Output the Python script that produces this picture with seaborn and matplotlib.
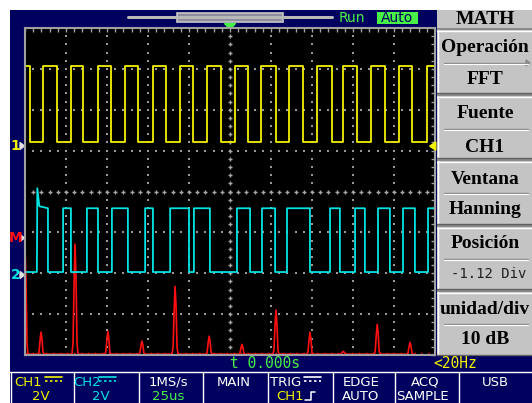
import numpy as np
import pandas as pd
import matplotlib
matplotlib.use("Agg")
import matplotlib.pyplot as plt
import seaborn as sns
from matplotlib.patches import Rectangle, Polygon

# ---- values (graticule divisions: x 0..10, y 0..8) ----
ch1_rise = [0.44, 1.12, 1.78, 2.44, 3.12, 3.78, 4.44, 5.12, 5.76, 6.44, 7.12, 7.76, 8.44, 9.12, 9.80]
ch1_fall = [0.12, 0.78, 1.41, 2.10, 2.76, 3.44, 4.10, 4.78, 5.44, 6.12, 6.78, 7.49, 8.10, 8.78, 9.44]
ch1_high, ch1_low = 7.07, 5.21

ch2_rise = [0.29, 0.93, 1.51, 2.12, 2.93, 3.54, 4.12, 5.17, 5.78, 6.39, 7.44, 8.05, 8.61, 9.22, 9.83]
ch2_fall = [0.56, 1.12, 1.78, 2.51, 3.12, 4.00, 4.51, 5.49, 6.10, 6.95, 7.68, 8.29, 8.90, 9.51]
ch2_high, ch2_low = 3.59, 2.03
ch2_spike = (0.30, 4.08)

fft_freq = [0.00, 0.39, 1.22, 2.02, 2.85, 3.66, 4.49, 5.29, 6.12, 6.95, 7.76, 8.59, 9.39]
fft_level = [2.62, 0.54, 2.69, 0.56, 0.32, 1.66, 0.44, 0.24, 1.08, 0.54, 0.07, 0.73, 0.29]

menu_titles = ["Operación", "Fuente", "Ventana", "Posición", "unidad/div"]
menu_values = ["FFT", "CH1", "Hanning", "-1.12 Div", "10 dB"]

W, H = 532, 403
NAVY = "#00005e"
YELLOW = "#f2f200"
CYAN = "#00e4e4"
RED = "#ff1010"
GREEN = "#48f048"
GRID = "#9a9a9a"
SERIF = "Liberation Serif"


def square(rises, falls, hi, lo, start_high):
    edges = sorted([(x, 1) for x in rises] + [(x, 0) for x in falls])
    level = hi if start_high else lo
    xs, ys = [0.0], [level]
    for x, up in edges:
        xs.append(x); ys.append(level)
        level = hi if up else lo
        xs.append(x); ys.append(level)
    xs.append(10.0); ys.append(level)
    return pd.DataFrame({"x": xs, "y": ys})


def spikes(freqs, levels):
    offs = np.array([-3, -2, -1, 0, 1, 2, 3]) / 41.0
    shape = np.array([0, 0.1, 0.6, 1.0, 0.7, 0.1, 0])
    xs, ys = [], []
    for f, h in zip(freqs, levels):
        xs.extend(np.clip(f + offs, 0, 10)); ys.extend(0.02 + h * shape)
    return pd.DataFrame({"x": xs, "y": ys})


sns.set_theme(style="white")
plt.rcParams["font.family"] = ["DejaVu Sans"]
fig = plt.figure(figsize=(W / 100, H / 100), dpi=100, facecolor="white")

# background layer in pixel coordinates
bg = fig.add_axes([0, 0, 1, 1])
bg.set_xlim(0, W); bg.set_ylim(H, 0); bg.axis("off")
bg.add_patch(Rectangle((10, 10), W - 10, H - 10, color=NAVY, lw=0))

# top status
bg.plot([128, 332], [17, 17], color="#b8b8b8", lw=2.2)
bg.add_patch(Rectangle((177, 13), 106, 9, fc="#8c8c9c", ec="#c8c8c8", lw=1.2))
bg.text(352, 17.5, "Run", color=GREEN, fontsize=10, ha="center", va="center")
bg.add_patch(Rectangle((377, 11.5), 41, 12, color=GREEN, lw=0))
bg.text(397.5, 17.5, "Auto", color=NAVY, fontsize=10, ha="center", va="center")
bg.add_patch(Polygon([[224.5, 23.5], [235.5, 23.5], [230, 29.5]], color=GREEN))

# channel markers on the left
for lab, y, c in [("1", 146, YELLOW), ("M", 238, RED), ("2", 275, CYAN)]:
    bg.text(15.5, y, lab, color=c, fontsize=10, ha="center", va="center", fontweight="bold")
    bg.add_patch(Polygon([[20, y - 3.5], [20, y + 3.5], [24.5, y]], color="#e0e0e0"))

# right menu
bg.add_patch(Rectangle((437, 10), W - 437, 346, color="#8a8a8a", lw=0))
bg.add_patch(Rectangle((437, 10), W - 437, 18, color="#c4c4c4", lw=0))
bg.text(485, 20, "MATH", fontsize=14, fontweight="bold", family=SERIF,
        ha="center", va="center", color="black")
boxes = [(30, 93), (96, 158), (161, 224), (227, 289), (292, 355)]
title_y = [48, 114, 179, 244, 309]
value_y = [80, 147, 209, 274, 340]
line_y = [63, 129, 193, 259, 324]
for i, ((top, bot), title, val) in enumerate(zip(boxes, menu_titles, menu_values)):
    bg.add_patch(Rectangle((437, top), W - 437, bot - top, fc="#c4c4c4", ec="none"))
    bg.plot([437, W], [top + 0.5, top + 0.5], color="white", lw=1)
    bg.plot([438, 438], [top, bot], color="white", lw=1)
    bg.plot([437, W], [bot - 0.5, bot - 0.5], color="#606060", lw=1)
    bg.plot([444, 528], [line_y[i], line_y[i]], color="#8a8a8a", lw=1)
    bg.plot([444, 528], [line_y[i] + 1, line_y[i] + 1], color="white", lw=0.8)
    bg.text(485, title_y[i], title, fontsize=14, fontweight="bold", family=SERIF,
            ha="center", va="center", color="black")
    if val.startswith("-"):
        bg.text(489, value_y[i], val, fontsize=10, family="DejaVu Sans Mono",
                ha="center", va="center", color="#202020")
    else:
        bg.text(485, value_y[i], val, fontsize=14, fontweight="bold", family=SERIF,
                ha="center", va="center", color="black")
bg.add_patch(Polygon([[526, 60], [526, 66], [530, 63]], color="#8a8a8a"))

# bottom status
bg.text(265, 364, "t 0.000s", color=GREEN, fontsize=10.5, family="DejaVu Sans Mono",
        ha="center", va="center")
bg.text(433, 363, "<20Hz", color=YELLOW, fontsize=10.5, family="DejaVu Sans Mono",
        ha="left", va="center")
bg.plot([10, W], [371.5, 371.5], color="white", lw=1)
for xs in [10.5, 74, 139, 203, 268, 333, 395, 459]:
    bg.plot([xs, xs], [372, H], color="white", lw=1)

row1, row2 = 382, 397
cells = [
    (28, row1, "CH1", YELLOW), (41, row2, "2V", YELLOW),
    (87, row1, "CH2", CYAN), (101, row2, "2V", CYAN),
    (168, row1, "1MS/s", "white"), (168, row2, "25us", GREEN),
    (234, row1, "MAIN", "white"), (286, row1, "TRIG", "white"),
    (290, row2, "CH1", YELLOW), (361, row1, "EDGE", "white"),
    (361, row2, "AUTO", "white"), (425, row1, "ACQ", "white"),
    (422, row2, "SAMPLE", "white"), (495, row1, "USB", "white"),
]
for x, y, s, c in cells:
    bg.text(x, y, s, color=c, fontsize=9.5, ha="center", va="center")
# coupling / slope symbols
for x0, c in [(45, YELLOW), (99, CYAN), (304, "white")]:
    bg.plot([x0, x0 + 17], [377, 377], color=c, lw=1.2)
    bg.plot([x0, x0 + 17], [381, 381], color=c, lw=1.2, ls=(0, (1.5, 1.5)))
bg.plot([305, 311, 311, 315], [400, 400, 392, 392], color="white", lw=1.1)

# scope graticule
ax = fig.add_axes([25 / W, (H - 355) / H, 410 / W, 327 / H])
ax.set_facecolor("black")
ax.set_xlim(0, 10); ax.set_ylim(0, 8)
for sp in ax.spines.values():
    sp.set_color("#a0a0a0"); sp.set_linewidth(1.5)
ax.set_xticks(np.arange(0, 10.01, 0.2)); ax.set_yticks(np.arange(0, 8.01, 0.2))
ax.tick_params(direction="in", length=3, color="#a0a0a0", width=1,
               top=True, right=True, labelbottom=False, labelleft=False)

dots_x = np.arange(0.2, 10, 0.2)
dots_y = np.arange(0.2, 8, 0.2)
for gx in range(1, 10):
    if gx != 5:
        ax.scatter(np.full(len(dots_y), gx), dots_y, s=2.5, color=GRID, lw=0, marker="s")
for gy in range(1, 8):
    if gy != 4:
        ax.scatter(dots_x, np.full(len(dots_x), gy), s=2.5, color=GRID, lw=0, marker="s")
ax.scatter(np.full(len(dots_y), 5), dots_y, s=12, marker="+", color="#a8a8a8", lw=1)
ax.scatter(dots_x, np.full(len(dots_x), 4), s=12, marker="+", color="#a8a8a8", lw=1)

ch1 = square(ch1_rise, ch1_fall, ch1_high, ch1_low, True)
ch2 = square(ch2_rise, ch2_fall, ch2_high, ch2_low, False)
# first rising edge of CH2 overshoots
i = ch2.index[(ch2["x"] == ch2_rise[0])][1]
ch2 = pd.concat([ch2.iloc[:i], pd.DataFrame({"x": [ch2_spike[0], ch2_spike[0] + 0.05],
                                             "y": [ch2_spike[1], ch2_high + 0.05]}),
                 ch2.iloc[i + 1:]], ignore_index=True)
fft = spikes(fft_freq, fft_level)
ax.plot([0, 10], [0.04, 0.04], color=RED, lw=1, ls=(0, (1, 4)))
sns.lineplot(data=fft, x="x", y="y", ax=ax, color=RED, lw=1.2, sort=False, estimator=None)
sns.lineplot(data=ch2, x="x", y="y", ax=ax, color=CYAN, lw=1.3, sort=False, estimator=None)
sns.lineplot(data=ch1, x="x", y="y", ax=ax, color=YELLOW, lw=1.3, sort=False, estimator=None)
ax.set_xlabel(""); ax.set_ylabel("")
ax.add_patch(Polygon([[10.02, 5.11 - 0.1], [10.02, 5.11 + 0.1], [9.87, 5.11]],
                     color=YELLOW, clip_on=False, zorder=5))

fig.savefig("out.png", dpi=100, facecolor="white")
